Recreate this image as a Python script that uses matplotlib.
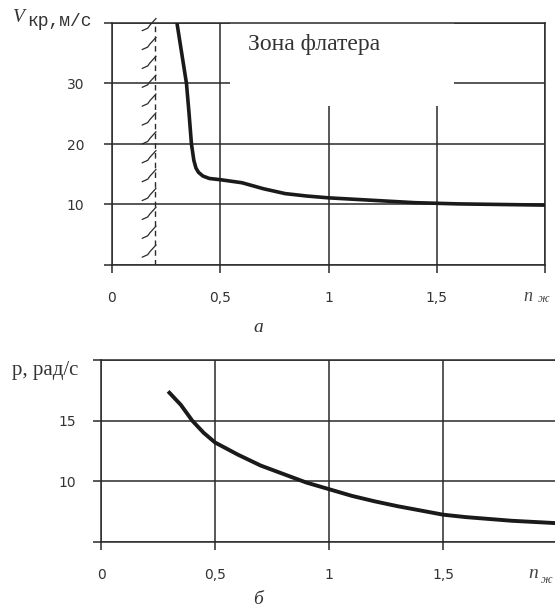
import numpy as np
import matplotlib
matplotlib.use("Agg")
import matplotlib.pyplot as plt
from matplotlib.patches import Rectangle

# ---- data ----
n_top = [0.30, 0.322, 0.344, 0.356, 0.367, 0.378, 0.388, 0.40, 0.42, 0.45, 0.50,
         0.60, 0.70, 0.80, 0.90, 1.00, 1.20, 1.40, 1.60, 1.80, 2.00]
v_cr = [40, 35, 30, 25, 20, 17.3, 16.0, 15.3, 14.7, 14.3, 14.1,
        13.6, 12.6, 11.8, 11.4, 11.1, 10.7, 10.3, 10.1, 10.0, 9.9]

n_bot = [0.30, 0.35, 0.40, 0.45, 0.50, 0.60, 0.70, 0.80, 0.90, 1.00,
         1.10, 1.20, 1.30, 1.40, 1.50, 1.60, 1.70, 1.80, 1.90, 2.00]
p_rad = [17.3, 16.3, 15.0, 14.0, 13.2, 12.2, 11.3, 10.6, 9.9, 9.35,
         8.8, 8.35, 7.95, 7.6, 7.25, 7.05, 6.9, 6.75, 6.65, 6.55]

x_ticks = [0, 0.5, 1, 1.5, 2]
x_labels = ["0", "0,5", "1", "1,5", ""]
top_yticks = [0, 10, 20, 30, 40]
top_ylabels = ["", "10", "20", "30", ""]
bot_yticks = [5, 10, 15, 20]
bot_ylabels = ["", "10", "15", ""]
flutter_limit = 0.2
zone_text = "Зона флатера"

C = "#2a2a2a"
plt.rcParams["font.family"] = ["DejaVu Sans"]

fig = plt.figure(figsize=(5.55, 6.10), dpi=100)

def style(ax):
    for s in ax.spines.values():
        s.set_color(C)
        s.set_linewidth(1.1)
    ax.tick_params(direction="out", length=6, width=1.1, color=C,
                   labelsize=10, labelcolor="#333333", pad=9)
    ax.grid(True, color=C, linewidth=1.1)
    ax.set_axisbelow(True)

# ---- top chart ----
ax1 = fig.add_axes([112/555, 1-265/610, 433/555, 242/610])
ax1.set_xlim(0, 2)
ax1.set_ylim(0, 40)
ax1.set_xticks(x_ticks)
ax1.set_xticklabels(x_labels)
ax1.set_yticks(top_yticks)
ax1.set_yticklabels(top_ylabels)
style(ax1)
ax1.tick_params(axis="y", pad=14)
ax1.tick_params(axis="x", pad=13)
# white box hiding grid behind the label
ax1.add_patch(Rectangle((0.545, 26.3), 1.58-0.545, 40-26.3, facecolor="white",
                        edgecolor="none", zorder=1.5))
ax1.text(0.627, 36.4, zone_text, family=["Liberation Serif", "DejaVu Serif"],
         fontsize=17, color="#333333", va="center", ha="left", zorder=3)
# flutter boundary
ax1.axvline(flutter_limit, color=C, lw=1.0, ls=(0, (4, 3)), zorder=2)
for yh in np.arange(1.3, 39.5, 3.12):
    ax1.plot([flutter_limit-0.06, flutter_limit-0.035, flutter_limit-0.025, flutter_limit+0.003],
             [yh, yh+0.4, yh+0.9, yh+2.0], color=C, lw=0.9, zorder=2, clip_on=False)
ax1.plot(n_top, v_cr, color="#1a1a1a", lw=2.6, zorder=3, solid_capstyle="butt")

fig.text(13/555, 1-18/610, "V", family=["Liberation Serif"], style="italic",
         fontsize=14, va="center", ha="left", color="#333333")
fig.text(27/555, 1-21/610, "кр,м/с", family=["Liberation Mono", "DejaVu Sans Mono"],
         fontsize=13, va="center", ha="left", color="#333333")
fig.text(523/555, 1-297/610, "n", family=["Liberation Serif"], style="italic",
         fontsize=13, va="center", ha="left", color="#444444")
fig.text(538/555, 1-299/610, "ж", family=["Liberation Serif"], style="italic",
         fontsize=9, va="center", ha="left", color="#444444")
fig.text(258/555, 1-328/610, "а", family=["Liberation Serif"], style="italic",
         fontsize=14, va="center", ha="center", color="#333333")

# ---- bottom chart ----
ax2 = fig.add_axes([101/555, 1-542/610, 454/555, 182/610])
ax2.set_xlim(0, 1.99)
ax2.set_ylim(5, 20)
ax2.set_xticks(x_ticks[:-1])
ax2.set_xticklabels(x_labels[:-1])
ax2.set_yticks(bot_yticks)
ax2.set_yticklabels(bot_ylabels)
style(ax2)
ax2.spines["right"].set_visible(False)
ax2.tick_params(axis="y", pad=12)
ax2.tick_params(axis="x", pad=13)
ax2.plot(n_bot, p_rad, color="#1a1a1a", lw=2.8, zorder=3)

fig.text(12/555, 1-370/610, "p, рад/с", family=["Liberation Serif", "DejaVu Serif"],
         fontsize=15, va="center", ha="left", color="#333333")
fig.text(528/555, 1-573/610, "n", family=["Liberation Serif"], style="italic",
         fontsize=14, va="center", ha="left", color="#444444")
fig.text(541/555, 1-580/610, "ж", family=["Liberation Serif"], style="italic",
         fontsize=9, va="center", ha="left", color="#444444")
fig.text(258/555, 1-600/610, "б", family=["Liberation Serif"], style="italic",
         fontsize=14, va="center", ha="center", color="#333333")

fig.savefig("out.png", dpi=100, facecolor="white")
